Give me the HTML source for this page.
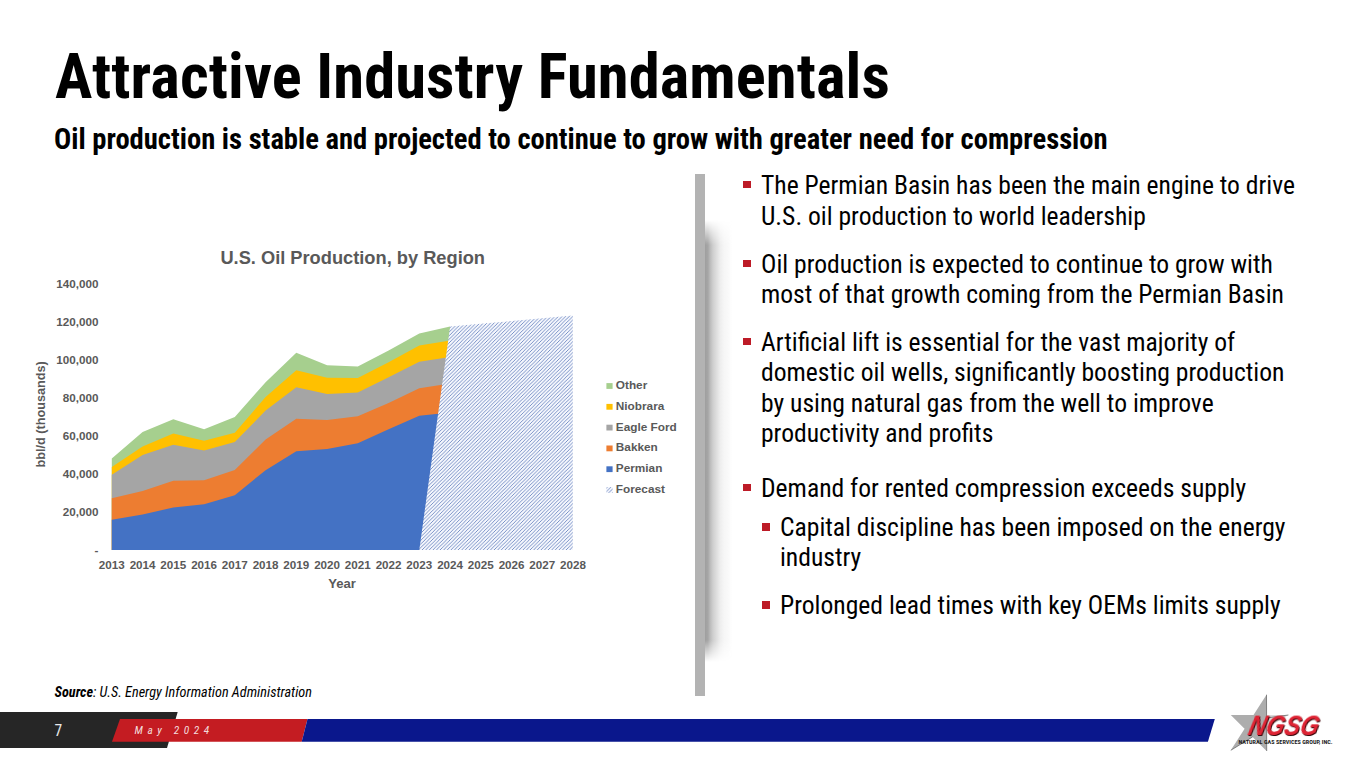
<!DOCTYPE html>
<html><head><meta charset="utf-8"><title>Attractive Industry Fundamentals</title>
<style>
html,body{margin:0;padding:0;}
body{width:1365px;height:768px;position:relative;overflow:hidden;background:#fff;font-family:"Roboto Condensed","Liberation Sans",sans-serif;color:#000;}
.abs{position:absolute;white-space:nowrap;}
#title{left:55px;top:39px;font-size:62.56px;font-weight:700;line-height:76px;letter-spacing:0.1px;}
#sub{left:54px;top:122.3px;font-size:28.6px;font-weight:700;line-height:34px;}
.bl{position:absolute;left:761px;font-size:25.6px;line-height:30.5px;white-space:nowrap;color:#000;}
.bl.sub{left:780px;}
.sq{position:absolute;width:7.9px;height:7.5px;background:#bd1b27;}
#src{left:54.5px;top:684.4px;font-size:14.25px;font-style:italic;font-weight:400;line-height:16px;}
#src b{font-weight:700;}
#bar{position:absolute;left:695.2px;top:174.2px;width:10.1px;height:521.6px;background:#b3b3b3;}
#shadow{position:absolute;left:705.2px;top:220px;width:28px;height:442px;
 background:linear-gradient(to right,#9f9f9f 0px,#a6a6a6 3px,#bababa 5px,#cfcfcf 8px,#e0e0e0 12px,#ededed 15px,#f6f6f6 19px,#fafafa 24px,rgba(255,255,255,0) 27px);
 -webkit-mask-image:linear-gradient(to bottom,transparent 0,#000 25px,#000 420px,transparent 442px);}
svg{position:absolute;left:0;top:0;}
</style></head><body>
<div id="title" class="abs">Attractive Industry Fundamentals</div>
<div id="sub" class="abs">Oil production is stable and projected to continue to grow with greater need for compression</div>

<svg width="1365" height="768" viewBox="0 0 1365 768">
<defs>
<pattern id="hatch" patternUnits="userSpaceOnUse" width="3.6" height="3.6">
<rect width="3.6" height="3.6" fill="#f5f7fd"/>
<path d="M-1,1 L1,-1 M0,3.6 L3.6,0 M2.6,4.6 L4.6,2.6" stroke="#6580bd" stroke-width="0.85"/>
</pattern>
</defs>
<path d="M111.8,458.4 L142.6,432.0 L173.3,419.3 L204.1,429.3 L234.8,417.1 L265.6,382.2 L296.3,352.7 L327.1,365.3 L357.8,366.5 L388.6,350.5 L419.3,333.4 L450.1,326.5 L450.1,550.0 L111.8,550.0Z" fill="#a6cf8e"/>
<path d="M111.8,467.0 L142.6,446.5 L173.3,433.4 L204.1,440.7 L234.8,432.8 L265.6,397.1 L296.3,370.2 L327.1,377.8 L357.8,378.0 L388.6,362.3 L419.3,345.4 L450.1,340.5 L450.1,550.0 L111.8,550.0Z" fill="#ffc000"/>
<path d="M111.8,474.8 L142.6,455.0 L173.3,444.7 L204.1,450.6 L234.8,442.0 L265.6,410.6 L296.3,387.3 L327.1,394.0 L357.8,392.5 L388.6,377.2 L419.3,361.7 L450.1,357.0 L450.1,550.0 L111.8,550.0Z" fill="#a5a5a5"/>
<path d="M111.8,498.3 L142.6,491.0 L173.3,480.8 L204.1,480.3 L234.8,470.0 L265.6,439.5 L296.3,418.7 L327.1,420.0 L357.8,416.3 L388.6,402.9 L419.3,388.2 L450.1,383.5 L450.1,550.0 L111.8,550.0Z" fill="#ed7d31"/>
<path d="M111.8,519.8 L142.6,514.4 L173.3,507.5 L204.1,504.3 L234.8,495.2 L265.6,470.2 L296.3,451.2 L327.1,449.0 L357.8,443.3 L388.6,429.3 L419.3,415.7 L450.1,412.5 L450.1,550.0 L111.8,550.0Z" fill="#4472c4"/>
<path d="M419.3,550 L450.1,326.5 L480.8,323.8 L511.6,321.0 L542.3,318.3 L572.8,315.6 L572.8,550 Z" fill="url(#hatch)"/>
<g font-family="'Liberation Sans',Arial,sans-serif" font-weight="700" fill="#595959">
<text x="352.7" y="263.6" text-anchor="middle" font-size="18.25">U.S. Oil Production, by Region</text>
<g font-size="11.65"><text x="111.8" y="568.6" text-anchor="middle">2013</text><text x="142.6" y="568.6" text-anchor="middle">2014</text><text x="173.3" y="568.6" text-anchor="middle">2015</text><text x="204.1" y="568.6" text-anchor="middle">2016</text><text x="234.8" y="568.6" text-anchor="middle">2017</text><text x="265.6" y="568.6" text-anchor="middle">2018</text><text x="296.3" y="568.6" text-anchor="middle">2019</text><text x="327.1" y="568.6" text-anchor="middle">2020</text><text x="357.8" y="568.6" text-anchor="middle">2021</text><text x="388.6" y="568.6" text-anchor="middle">2022</text><text x="419.3" y="568.6" text-anchor="middle">2023</text><text x="450.1" y="568.6" text-anchor="middle">2024</text><text x="480.8" y="568.6" text-anchor="middle">2025</text><text x="511.6" y="568.6" text-anchor="middle">2026</text><text x="542.3" y="568.6" text-anchor="middle">2027</text><text x="573.0" y="568.6" text-anchor="middle">2028</text></g>
<g font-size="11.7"><text x="98.5" y="554.0" text-anchor="end">-</text><text x="98.5" y="516.0" text-anchor="end">20,000</text><text x="98.5" y="478.0" text-anchor="end">40,000</text><text x="98.5" y="440.0" text-anchor="end">60,000</text><text x="98.5" y="402.0" text-anchor="end">80,000</text><text x="98.5" y="364.0" text-anchor="end">100,000</text><text x="98.5" y="326.0" text-anchor="end">120,000</text><text x="98.5" y="288.0" text-anchor="end">140,000</text></g>
<text x="342" y="587.8" text-anchor="middle" font-size="13.1">Year</text>
<text transform="translate(45.2,414.4) rotate(-90)" text-anchor="middle" font-size="12.7">bbl/d (thousands)</text>
<g font-size="11.8"><rect x="606.4" y="383.1" width="6.2" height="5.8" fill="#a6cf8e"/><text x="615.8" y="389.0">Other</text><rect x="606.4" y="403.9" width="6.2" height="5.8" fill="#ffc000"/><text x="615.8" y="409.8">Niobrara</text><rect x="606.4" y="424.7" width="6.2" height="5.8" fill="#a5a5a5"/><text x="615.8" y="430.6">Eagle Ford</text><rect x="606.4" y="445.5" width="6.2" height="5.8" fill="#ed7d31"/><text x="615.8" y="451.4">Bakken</text><rect x="606.4" y="466.3" width="6.2" height="5.8" fill="#4472c4"/><text x="615.8" y="472.2">Permian</text><rect x="606.4" y="487.1" width="6.2" height="5.8" fill="url(#hatch)"/><text x="615.8" y="493.0">Forecast</text></g>
</g>
<!-- footer -->
<polygon points="0,712 177.7,712 167,748 0,748" fill="#262626"/>
<polygon points="120,719 307.5,719 301.7,741.8 112,741.8" fill="#c41c22"/>
<polygon points="307.5,719 1214.8,719 1207.9,741.8 301.7,741.8" fill="#0a178c"/>
<!-- logo -->
<g>
<polygon points="1266.5,694.7 1266.6,751 1252.6,736.9 1230.8,750.3 1244.6,728.8 1230.8,715 1253.5,715" fill="#adadad"/>
<polygon points="1266.6,715 1288.4,715 1266.6,728.3" fill="#d9d9d9"/>
<path d="M1266.5,694.7 L1266.7,751 M1230.8,750.3 L1252.6,736.9 M1266.6,718 L1288.4,715" stroke="#5a5a5a" stroke-width="0.7" fill="none"/>
<g transform="translate(1282,735) skewX(-14)">
<text x="0" y="0" text-anchor="middle" font-family="'Liberation Sans',sans-serif" font-weight="700" font-style="italic" font-size="29" fill="#de2434" textLength="70" lengthAdjust="spacingAndGlyphs" style="filter:drop-shadow(1.3px 1.2px 0 #3a0508)">NGSG</text>
</g>
<text x="1285.5" y="744" text-anchor="middle" font-family="'Roboto Condensed',sans-serif" font-weight="700" font-size="5.6" fill="#222" textLength="94" lengthAdjust="spacingAndGlyphs">NATURAL GAS SERVICES GROUP, INC.</text>
</g>
</svg>

<div id="bar"></div>
<div id="shadow"></div>

<div class="sq" style="left:743px;top:180.9px"></div>
<div class="bl" style="top:170px">The Permian Basin has been the main engine to drive<br>U.S. oil production to world leadership</div>
<div class="sq" style="left:743px;top:259.5px"></div>
<div class="bl" style="top:248.5px">Oil production is expected to continue to grow with<br>most of that growth coming from the Permian Basin</div>
<div class="sq" style="left:743px;top:337.9px"></div>
<div class="bl" style="top:326.7px">Artificial lift is essential for the vast majority of<br>domestic oil wells, significantly boosting production<br>by using natural gas from the well to improve<br>productivity and profits</div>
<div class="sq" style="left:743px;top:483.7px"></div>
<div class="bl" style="top:472.6px">Demand for rented compression exceeds supply</div>
<div class="sq" style="left:762.3px;top:523px"></div>
<div class="bl sub" style="top:511.7px">Capital discipline has been imposed on the energy<br>industry</div>
<div class="sq" style="left:762.3px;top:601.3px"></div>
<div class="bl sub" style="top:589.8px">Prolonged lead times with key OEMs limits supply</div>

<div id="src" class="abs"><b>Source</b>: U.S. Energy Information Administration</div>
<div class="abs ft" style="left:54.5px;top:721px;font-size:15.6px;line-height:20px;color:#e8e8e8;">7</div>
<div class="abs ft" style="left:134.5px;top:723px;font-size:11.4px;line-height:14px;font-style:italic;letter-spacing:4.6px;color:#f3dcdc;">May 2024</div>
<script>
(function(){
  try{
    var a=document.createElement('span'),b=document.createElement('span');
    var t='mmmmmmmmmmlliiWWWabcdefghij';
    a.textContent=t;b.textContent=t;
    a.style.cssText='position:absolute;visibility:hidden;font-size:40px;white-space:nowrap;font-family:"Roboto Condensed",monospace';
    b.style.cssText='position:absolute;visibility:hidden;font-size:40px;white-space:nowrap;font-family:monospace';
    document.body.appendChild(a);document.body.appendChild(b);
    var same=Math.abs(a.getBoundingClientRect().width-b.getBoundingClientRect().width)<0.5;
    document.body.removeChild(a);document.body.removeChild(b);
    if(same){
      var m=[['#title',0.84],['#sub',0.834],['.bl',0.876],['#src',0.84],['.ft',0.9]];
      for(var k=0;k<m.length;k++){var els=document.querySelectorAll(m[k][0]);
        for(var i=0;i<els.length;i++){els[i].style.transformOrigin='0 50%';els[i].style.transform='scaleX('+m[k][1]+')';}}
    }
  }catch(e){}
})();
</script>
</body></html>
